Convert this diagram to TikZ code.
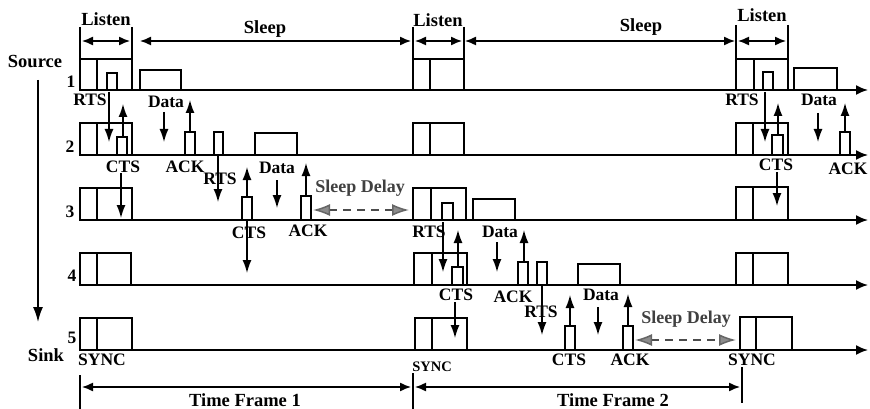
\documentclass[tikz,border=0pt]{standalone}
\usepackage{fontspec}
\setmainfont{Liberation Serif}
\usetikzlibrary{arrows.meta}
\begin{document}
\begin{tikzpicture}[x=1pt,y=-1pt,
  box/.style={line width=1.5pt},
  tl/.style={line width=1.8pt,-{Latex[length=12pt,width=10pt]}},
  sig/.style={line width=1.4pt,-{Latex[length=13pt,width=9pt]}},
  harr/.style={line width=1.4pt,{Latex[length=11pt,width=9pt]}-{Latex[length=11pt,width=9pt]}},
  bracket/.style={line width=1.5pt},
  delay/.style={line width=1.5pt,black!70,dash pattern=on 8pt off 6pt,
    {Latex[length=17pt,width=12pt,fill=black!45,color=black!60]}-{Latex[length=17pt,width=12pt,fill=black!45,color=black!60]}},
  lbl/.style={font=\bfseries\fontsize{17.5}{17.5}\selectfont,inner sep=0pt},
  big/.style={font=\bfseries\fontsize{18.5}{18.5}\selectfont,inner sep=0pt},
  dlbl/.style={font=\bfseries\fontsize{18}{18}\selectfont,inner sep=0pt,anchor=base,text=black!75},
  smallsync/.style={font=\bfseries\fontsize{14.5}{14.5}\selectfont,inner sep=0pt}
]
\useasboundingbox (0,0) rectangle (870,409);

% timelines
\foreach \y in {90,155,220,285,350}
  \draw[tl] (80,\y) -- (868,\y);

% sync (listen) boxes: left/middle/right/top/base
\foreach \l/\m/\r/\t/\b in {
  80/97/132/59/90, 413/430/464/59/90, 736/754/788/59/90,
  80/97/132/123/155, 413/430/464/123/155, 736/753/788/123/155,
  80/97/132/188/220, 413/431/466/188/220, 736/753/788/187/220,
  80/97/131/253/285, 414/432/467/253/285, 736/753/788/253/285,
  80/97/132/318/350, 415/432/467/318/350, 740/756/792/317/350}
{
  \draw[box] (\l,\b) rectangle (\r,\t);
  \draw[box] (\m,\b) -- (\m,\t);
}

% packets: left/right/top/base
\foreach \l/\r/\t/\b in {
  107/117/73/90, 763/773/72/90, 140/181/70/90, 794/837/68/90,
  117/127/137/155, 185/195/132/155, 214/223/132/155, 255/297/133/155,
  772/783/135/155, 840/850/132/155,
  242/252/197/220, 301/311/196/220, 442/453/203/220, 473/515/199/220,
  452/463/267/285, 518/528/262/285, 537/547/262/285, 578/620/264/285,
  565/575/326/350, 623/633/326/350}
  \draw[box] (\l,\b) rectangle (\r,\t);

% signal arrows: x/from/to
\foreach \x/\a/\b in {
  109/92/142, 123/137/104, 164/112/142, 190/132/100,
  218/155/202, 121/173/218, 247/197/167, 277/180/208, 306/196/163,
  247/220/273,
  443/222/272, 458/267/230, 497/242/272, 524/262/230,
  455/302/338, 542/285/335, 570/326/295, 598/307/335, 628/326/294,
  765/92/142, 778/135/103, 818/113/142, 845/132/103,
  777/172/206}
  \draw[sig] (\x,\a) -- (\x,\b);

% listen brackets
\foreach \x/\t in {80/27, 132/27, 413/27, 464/27, 736/25, 788/25}
  \draw[bracket] (\x,\t) -- (\x,90);
\draw[harr] (82,41) -- (130,41);
\draw[harr] (415,41) -- (462,41);
\draw[harr] (738,41) -- (786,41);
% sleep arrows
\draw[harr] (140,41) -- (411,41);
\draw[harr] (465,41) -- (735,41);

\node[big] (listen1) at (106,19) {Listen};
\node[big] (listen2) at (438,20) {Listen};
\node[big] (listen3) at (762,15) {Listen};
\node[big,anchor=base] (sleep1) at (265,34) {Sleep};
\node[big,anchor=base] (sleep2) at (641,32) {Sleep};

% left side
\node[big] (source) at (35,61) {Source};
\node[big] (sink) at (46,355) {Sink};
\coordinate (srcTop) at (38,80);
\coordinate (srcBot) at (38,322);
\draw[line width=1.5pt,-{Latex[length=15pt,width=10pt]}] (srcTop) -- (srcBot);
\node[lbl] (n1) at (71,82) {1};
\node[lbl] (n2) at (70,147) {2};
\node[lbl] (n3) at (70,212) {3};
\node[lbl] (n4) at (72,276) {4};
\node[lbl] (n5) at (72,338) {5};

% labels frame 1
\node[lbl] (rtsA) at (90,100) {RTS};
\node[lbl] (dataA) at (166,102) {Data};
\node[lbl] (ctsA) at (123,167) {CTS};
\node[lbl] (ackA) at (185,167) {ACK};
\node[lbl] (rtsB) at (220,179) {RTS};
\node[lbl] (dataB) at (277,168) {Data};
\node[lbl] (ctsB) at (249,233) {CTS};
\node[lbl] (ackB) at (308,231) {ACK};
\node[dlbl] (delay1) at (360,192) {Sleep Delay};
% labels frame 2
\node[lbl] (rtsC) at (429,232) {RTS};
\node[lbl] (dataC) at (500,232) {Data};
\node[lbl] (ctsC) at (456,295) {CTS};
\node[lbl] (ackC) at (513,297) {ACK};
\node[lbl] (rtsD) at (541,312) {RTS};
\node[lbl] (dataD) at (601,295) {Data};
\node[lbl] (ctsD) at (569,360) {CTS};
\node[lbl] (ackD) at (630,360) {ACK};
\node[dlbl] (delay2) at (686,323) {Sleep Delay};
% labels frame 3
\node[lbl] (rtsE) at (742,100) {RTS};
\node[lbl] (dataE) at (819,100) {Data};
\node[lbl] (ctsE) at (776,165) {CTS};
\node[lbl] (ackE) at (848,169) {ACK};

% sleep delay arrows
\coordinate (d1a) at (313,210); \coordinate (d1b) at (409,210);
\coordinate (d2a) at (635,340); \coordinate (d2b) at (736,340);
\draw[delay] (d1a) -- (d1b);
\draw[delay] (d2a) -- (d2b);

% sync labels
\node[lbl] (sync1) at (102,360) {SYNC};
\node[smallsync] (sync2) at (432,367) {SYNC};
\node[lbl] (sync3) at (752,360) {SYNC};

% time frames
\draw[bracket] (80,375) -- (80,409);
\draw[bracket] (413,373) -- (413,409);
\draw[bracket] (742,367) -- (742,403);
\draw[harr] (82,387) -- (411,387);
\draw[harr] (415,387) -- (740,387);
\node[big] (tf1) at (245,400) {Time Frame 1};
\node[big] (tf2) at (613,400) {Time Frame 2};
\end{tikzpicture}
\end{document}
